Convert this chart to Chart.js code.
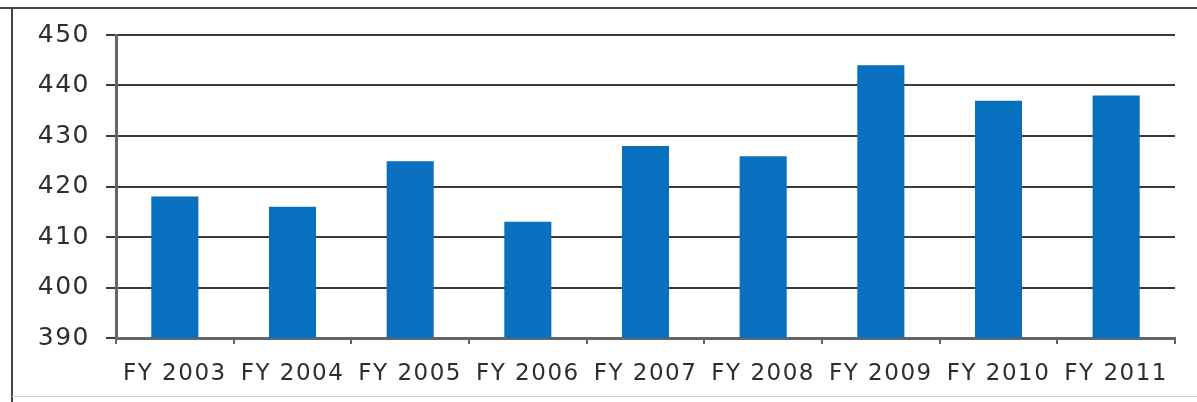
<!DOCTYPE html>
<html>
<head>
<meta charset="utf-8">
<script src="https://cdn.jsdelivr.net/npm/chart.js@4"></script>
<style>
  html, body { margin: 0; padding: 0; background: #fff; }
  #wrap { width: 1197px; height: 402px; position: relative; }
</style>
</head>
<body>
<div id="wrap"><canvas id="chart" width="1197" height="402"></canvas></div>
<script>
// Chart data
const categories = ['FY 2003', 'FY 2004', 'FY 2005', 'FY 2006', 'FY 2007', 'FY 2008', 'FY 2009', 'FY 2010', 'FY 2011'];
const values = [418, 416, 425, 413, 428, 426, 444, 437, 438];
const yTicks = [390, 400, 410, 420, 430, 440, 450];

// Slightly wider text, like the stretched labels in the original
const spacingPlugin = {
    id: 'spacing',
    beforeDraw(chart) {
        chart.ctx.letterSpacing = '1.5px';
    }
};

// Outer frame lines around the picture
const framePlugin = {
    id: 'frame',
    afterDraw(chart) {
        const ctx = chart.ctx;
        ctx.save();
        ctx.strokeStyle = '#444';
        ctx.lineWidth = 2;
        ctx.beginPath();
        ctx.moveTo(0, 8);
        ctx.lineTo(1197, 8);
        ctx.moveTo(12, 8);
        ctx.lineTo(12, 402);
        ctx.stroke();
        ctx.strokeStyle = '#ccc';
        ctx.lineWidth = 1;
        ctx.beginPath();
        ctx.moveTo(12, 396.5);
        ctx.lineTo(1197, 396.5);
        ctx.stroke();
        ctx.restore();
    }
};

new Chart(document.getElementById('chart'), {
    type: 'bar',
    data: {
        labels: categories,
        datasets: [{
            data: values,
            backgroundColor: '#0870BF',
            borderWidth: 0,
            categoryPercentage: 1.0,
            barPercentage: 0.4
        }]
    },
    options: {
        responsive: false,
        animation: false,
        layout: { padding: { left: 0, right: 22, top: 35, bottom: 0 } },
        plugins: {
            legend: { display: false },
            tooltip: { enabled: false }
        },
        scales: {
            x: {
                offset: true,
                grid: {
                    offset: true,
                    drawOnChartArea: false,
                    tickLength: 6,
                    color: '#666',
                    lineWidth: 2
                },
                border: { color: '#666', width: 3 },
                ticks: {
                    color: '#2e2e2e',
                    padding: 16,
                    maxRotation: 0,
                    autoSkip: false,
                    font: { family: 'DejaVu Sans', size: 23 }
                },
                afterFit(scale) { scale.height = 64; }
            },
            y: {
                min: 390,
                max: 450,
                afterBuildTicks(scale) {
                    scale.ticks = yTicks.map(v => ({ value: v }));
                },
                grid: {
                    color: '#3a3a3a',
                    lineWidth: 2,
                    tickLength: 10
                },
                border: { color: '#666', width: 3 },
                ticks: {
                    color: '#2e2e2e',
                    padding: 16,
                    font: { family: 'DejaVu Sans', size: 25 }
                },
                afterFit(scale) { scale.width = 116; }
            }
        }
    },
    plugins: [spacingPlugin, framePlugin]
});
</script>
</body>
</html>
